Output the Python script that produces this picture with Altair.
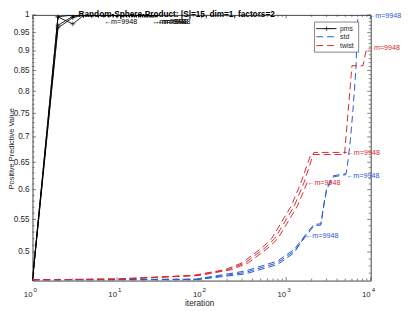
import altair as alt
import pandas as pd

# ---------------- data ----------------
TITLE = "Random-Sphere-Product: |S|=15, dim=1, factors=2"
X_TITLE = "iteration"
Y_TITLE = "Positive Predictive Value"
SERIES = ["pms", "std", "twist"]
SERIES_COLORS = ["#000000", "#2a58d6", "#d8282c"]
END_LABEL = "\u2190m=9948"

PMS_1_ITER = [1, 2, 3, 4, 5, 6, 7]
PMS_1_VAL = [0.461, 0.994, 1.0, 1.0, 1.0, 1.0, 1.0]
PMS_2_ITER = [1, 2, 3, 4, 5, 6, 7, 8, 9, 10, 11, 12, 13, 14, 15, 16, 17, 18, 19, 20, 21, 22, 23, 24, 25, 26]
PMS_2_VAL = [0.461, 0.963, 0.992, 1.0, 1.0, 1.0, 1.0, 1.0, 1.0, 1.0, 1.0, 1.0, 1.0,
             1.0, 1.0, 1.0, 1.0, 1.0, 1.0, 1.0, 1.0, 1.0, 1.0, 1.0, 1.0, 1.0]
PMS_3_ITER = [1, 2, 3, 4, 5, 6, 7, 8, 9, 10, 11, 12, 13, 14, 15, 16, 17, 18, 19, 20,
              21, 22, 23, 24, 25, 26, 27, 28]
PMS_3_VAL = [0.461, 0.994, 0.974, 0.998, 1.0, 1.0, 1.0, 1.0, 1.0, 1.0, 1.0, 1.0, 1.0, 1.0,
             1.0, 1.0, 1.0, 1.0, 1.0, 1.0, 1.0, 1.0, 1.0, 1.0, 1.0, 1.0, 1.0, 1.0]
PMS_4_ITER = [1, 2, 3, 4, 5, 6, 7, 8, 9, 10, 11, 12, 13, 14, 15, 16, 17, 18, 19, 20,
              21, 22, 23, 24, 25, 26, 27, 28, 29, 30]
PMS_4_VAL = [0.461, 0.970, 0.996, 1.0, 1.0, 1.0, 1.0, 1.0, 1.0, 1.0, 1.0, 1.0, 1.0, 1.0, 1.0,
             1.0, 1.0, 1.0, 1.0, 1.0, 1.0, 1.0, 1.0, 1.0, 1.0, 1.0, 1.0, 1.0, 1.0, 1.0]

STD_1_ITER = [1, 10, 86, 328, 790, 1247, 1680]
STD_1_VAL = [0.461, 0.461, 0.4612, 0.469, 0.482, 0.499, 0.525]
STD_2_ITER = [1, 10, 86, 328, 790, 1247, 1629, 2127, 2570, 2786, 3023, 3630, 5130]
STD_2_VAL = [0.461, 0.461, 0.4614, 0.471, 0.4845, 0.5015, 0.520, 0.540, 0.541, 0.572, 0.601,
             0.623, 0.627]
STD_3_ITER = [1, 10, 86, 328, 790, 1247, 1629, 2127, 2570, 2786, 3023, 3630, 5130, 5410,
              5740, 6150, 6520, 6700, 6890, 7080, 9300]
STD_3_VAL = [0.461, 0.4615, 0.462, 0.473, 0.487, 0.504, 0.523, 0.542, 0.543, 0.575, 0.604,
             0.625, 0.629, 0.655, 0.693, 0.755, 0.823, 0.859, 0.950, 1.0, 1.0]

TWIST_1_ITER = [1, 11, 94, 227, 358, 610, 797, 1359, 1776]
TWIST_1_VAL = [0.461, 0.462, 0.467, 0.475, 0.4845, 0.506, 0.520, 0.572, 0.613]
TWIST_2_ITER = [1, 10, 86, 208, 328, 560, 731, 1247, 1629, 2127, 5200]
TWIST_2_VAL = [0.461, 0.462, 0.467, 0.475, 0.4845, 0.506, 0.520, 0.572, 0.613, 0.669, 0.669]
TWIST_3_ITER = [1, 9, 79, 191, 302, 515, 673, 1147, 1499, 1957, 4900, 6000, 8100, 9000]
TWIST_3_VAL = [0.461, 0.462, 0.467, 0.475, 0.4845, 0.506, 0.520, 0.572, 0.613, 0.665, 0.665,
               0.862, 0.862, 0.910]

Y_MAJOR = [0.5, 0.55, 0.6, 0.65, 0.7, 0.75, 0.8, 0.85, 0.9, 0.95, 1.0]
X_MAJOR = [1, 10, 100, 1000, 10000]
X_EXP = ["0", "1", "2", "3", "4"]

# ---------------- build tables ----------------
RUNS = [
    ("pms", "p1", PMS_1_ITER, PMS_1_VAL), ("pms", "p2", PMS_2_ITER, PMS_2_VAL),
    ("pms", "p3", PMS_3_ITER, PMS_3_VAL), ("pms", "p4", PMS_4_ITER, PMS_4_VAL),
    ("std", "s1", STD_1_ITER, STD_1_VAL), ("std", "s2", STD_2_ITER, STD_2_VAL),
    ("std", "s3", STD_3_ITER, STD_3_VAL),
    ("twist", "t1", TWIST_1_ITER, TWIST_1_VAL), ("twist", "t2", TWIST_2_ITER, TWIST_2_VAL),
    ("twist", "t3", TWIST_3_ITER, TWIST_3_VAL),
]
rows = []
for s, r, its, vals in RUNS:
    for k, (i, v) in enumerate(zip(its, vals)):
        rows.append({"series": s, "run": r, "iteration": i, "value": v, "k": k})
df = pd.DataFrame(rows)
ends = df.groupby("run").tail(1).copy()
ends["label"] = END_LABEL

Y_MINOR = [round(0.46 + 0.01 * i, 2) for i in range(1, 54)]
Y_MINOR = [v for v in Y_MINOR if round(v * 100) % 5 != 0]
X_MINOR = [m * 10 ** e for e in range(4) for m in range(2, 10)]

FONT = "Liberation Sans"
W, H = 345, 271
TXT = "#262626"

xs = alt.Scale(type="log", domain=[1, 10000], nice=False)
ys = alt.Scale(type="log", domain=[0.46, 1.0], nice=False)
x_axis = alt.Axis(title=X_TITLE, labels=False, ticks=False, tickSize=0, domain=False, grid=False,
                  titleFont=FONT, titleFontSize=8.4, titleFontWeight="normal", titleColor=TXT,
                  titleX=170, titleY=25, titleAlign="center", titleBaseline="alphabetic")
y_axis = alt.Axis(title=Y_TITLE, values=Y_MAJOR, format="~g", labelFont=FONT, labelFontSize=8.3,
                  labelColor=TXT, labelPadding=3.5, ticks=False, tickSize=0, domain=False, grid=False,
                  labelOverlap=False, titleFont=FONT, titleFontSize=7.6, titleFontWeight="normal",
                  titleColor=TXT, titleX=-19.4, titleY=136, titleAlign="center",
                  titleBaseline="alphabetic", titleAngle=270)
X = alt.X("iteration:Q", scale=xs, axis=x_axis)
Y = alt.Y("value:Q", scale=ys, axis=y_axis)
COLOR = alt.Color("series:N", scale=alt.Scale(domain=SERIES, range=SERIES_COLORS), legend=None)

layers = []
# ticks (inward, all four sides)
ym = pd.DataFrame({"value": Y_MAJOR})
yn = pd.DataFrame({"value": Y_MINOR})
xm = pd.DataFrame({"iteration": X_MAJOR, "exp": X_EXP})
xn = pd.DataFrame({"iteration": X_MINOR})
tick_style = dict(color="#444444", strokeWidth=0.7)
for d, L in ((ym, 3.5), (yn, 2.0)):
    layers.append(alt.Chart(d).mark_rule(**tick_style).encode(y=Y, x=alt.value(0), x2=alt.value(L)))
    layers.append(alt.Chart(d).mark_rule(**tick_style).encode(y=Y, x=alt.value(W - L), x2=alt.value(W)))
for d, L in ((xm, 3.5), (xn, 2.0)):
    layers.append(alt.Chart(d).mark_rule(**tick_style).encode(x=X, y=alt.value(H - L), y2=alt.value(H)))
    layers.append(alt.Chart(d).mark_rule(**tick_style).encode(x=X, y=alt.value(0), y2=alt.value(L)))

# x tick labels 10^k
layers.append(alt.Chart(xm).mark_text(text="10", align="right", baseline="alphabetic", font=FONT,
                                      fontSize=8, color=TXT).encode(x=X, y=alt.value(H + 16.3)))
layers.append(alt.Chart(xm).mark_text(align="left", baseline="alphabetic", font=FONT, fontSize=6.3,
                                      dx=1, color=TXT).encode(x=X, y=alt.value(H + 12), text="exp:N"))

# data lines
for s in SERIES:
    sub = df[df.series == s]
    dash = [1, 0] if s == "pms" else [7, 4]
    layers.append(alt.Chart(sub).mark_line(strokeWidth=1, clip=True, strokeDash=dash).encode(
        x=X, y=Y, color=COLOR, detail="run:N", order="k:Q"))
    if s == "pms":
        layers.append(alt.Chart(sub).mark_point(shape="M-1,0H1M0,-1V1", filled=False, size=25,
                                                strokeWidth=0.6, clip=True, opacity=1).encode(
            x=X, y=Y, color=COLOR))

# end labels
pms_ends = ends[ends.series == "pms"]
oth_ends = ends[ends.series != "pms"]
layers.append(alt.Chart(pms_ends).mark_text(align="left", baseline="middle", dx=0, dy=7, font=FONT,
                                            fontSize=7.3).encode(x=X, y=Y, text="label:N", color=COLOR))
layers.append(alt.Chart(oth_ends).mark_text(align="left", baseline="middle", dx=0, dy=1, font=FONT,
                                            fontSize=7.3).encode(x=X, y=Y, text="label:N", color=COLOR))

# legend box
one = pd.DataFrame({"a": [0]})
layers.append(alt.Chart(one).mark_rect(fill="white", stroke="#333333", strokeWidth=0.6).encode(
    x=alt.value(287.7), x2=alt.value(332.7), y=alt.value(7.3), y2=alt.value(38)))
for s, c, ly in zip(SERIES, SERIES_COLORS, [14.0, 22.3, 31.3]):
    dash = [1, 0] if s == "pms" else [7, 4]
    layers.append(alt.Chart(one).mark_rule(color=c, strokeWidth=1, strokeDash=dash).encode(
        x=alt.value(289.5), x2=alt.value(310), y=alt.value(ly)))
    if s == "pms":
        layers.append(alt.Chart(one).mark_point(shape="M-1,0H1M0,-1V1", filled=False, size=25,
                                                strokeWidth=0.6, color=c, opacity=1).encode(
            x=alt.value(300), y=alt.value(ly)))
    layers.append(alt.Chart(one).mark_text(text=s, align="left", baseline="middle", font=FONT,
                                           fontSize=7, color=TXT).encode(
        x=alt.value(313.7), y=alt.value(ly)))

# title
layers.append(alt.Chart(one).mark_text(text=TITLE, align="left", baseline="alphabetic", font=FONT,
                                       fontSize=8.4, fontWeight="bold", color="black").encode(
    x=alt.value(47), y=alt.value(2.6)))

chart = alt.layer(*layers).properties(
    width=W, height=H,
    autosize=alt.AutoSizeParams(type="none"),
    padding={"left": 25, "top": 4, "right": 37, "bottom": 28},
).configure_view(stroke="#444444", strokeWidth=1)

chart.save("out.html", embed_options={"renderer": "svg", "actions": False})
